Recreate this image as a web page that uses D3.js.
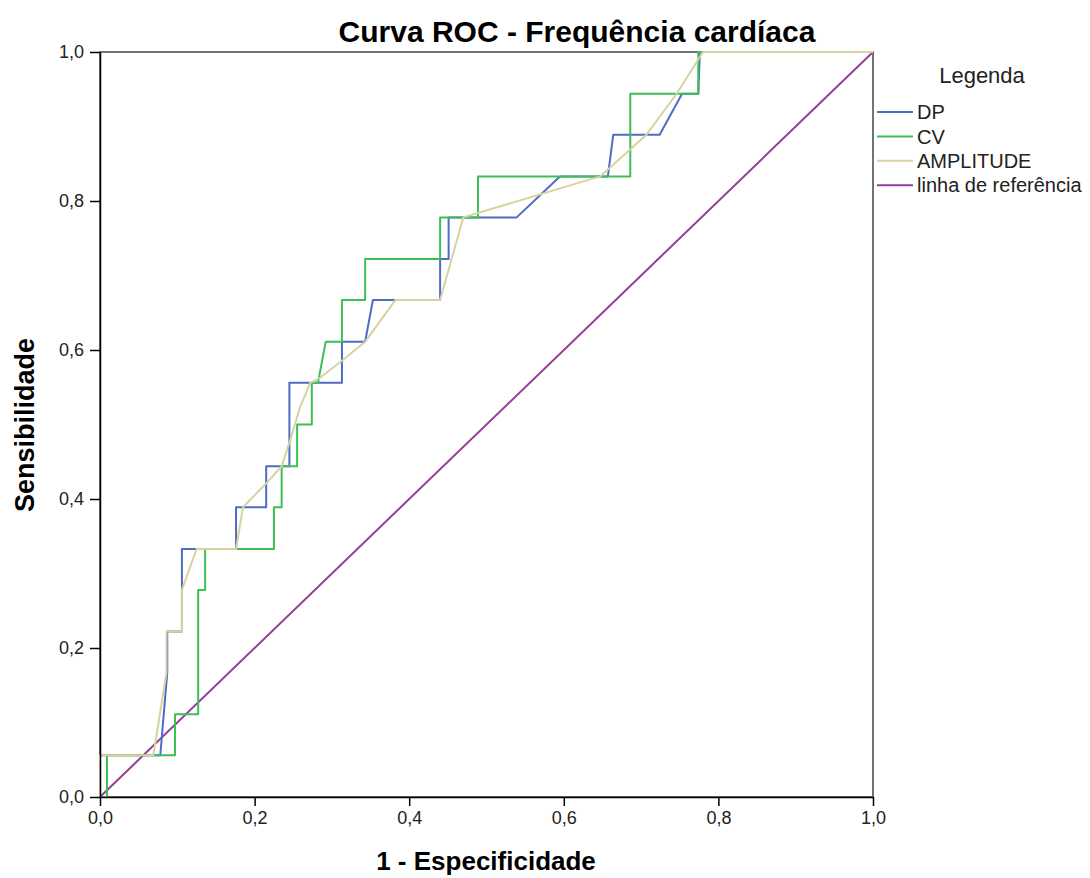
<!DOCTYPE html>
<meta charset="utf-8">
<html>
<style>
body { margin: 0; background: #fff; }
svg { font-family: "Liberation Sans", Arial, sans-serif; }
.series { fill: none; stroke-width: 2px; stroke-linejoin: round; }
.axis text { font-size: 18px; fill: #222; }
.axis path, .axis line { stroke: #000; stroke-width: 1.5px; }
</style>
<body>
<svg width="1090" height="878"></svg>
<script src="https://d3js.org/d3.v7.min.js"></script>
<script>
// 1 - especificidade / sensibilidade
var dpX  = [0, 0, 0.078, 0.087, 0.087, 0.106, 0.106, 0.176, 0.176, 0.215, 0.215, 0.245, 0.245, 0.313, 0.313, 0.343, 0.353, 0.440, 0.440, 0.451, 0.451, 0.539, 0.595, 0.657, 0.664, 0.724, 0.753, 0.774, 0.776, 1];
var dpY  = [0, 0.056, 0.056, 0.167, 0.222, 0.222, 0.333, 0.333, 0.389, 0.389, 0.444, 0.444, 0.556, 0.556, 0.611, 0.611, 0.667, 0.667, 0.722, 0.722, 0.778, 0.778, 0.833, 0.833, 0.889, 0.889, 0.944, 0.944, 1, 1];

var cvX  = [0, 0.009, 0.009, 0.097, 0.097, 0.127, 0.127, 0.136, 0.136, 0.225, 0.225, 0.235, 0.235, 0.255, 0.255, 0.274, 0.274, 0.282, 0.292, 0.313, 0.313, 0.343, 0.343, 0.440, 0.440, 0.489, 0.489, 0.686, 0.686, 0.774, 0.774, 1];
var cvY  = [0, 0, 0.056, 0.056, 0.111, 0.111, 0.278, 0.278, 0.333, 0.333, 0.389, 0.389, 0.444, 0.444, 0.500, 0.500, 0.556, 0.556, 0.611, 0.611, 0.667, 0.667, 0.722, 0.722, 0.778, 0.778, 0.833, 0.833, 0.944, 0.944, 1, 1];

var ampX = [0, 0, 0.069, 0.086, 0.086, 0.106, 0.106, 0.125, 0.176, 0.185, 0.215, 0.235, 0.246, 0.259, 0.272, 0.285, 0.311, 0.343, 0.382, 0.440, 0.470, 0.647, 0.707, 0.746, 0.780, 1];
var ampY = [0, 0.056, 0.056, 0.167, 0.222, 0.222, 0.278, 0.333, 0.333, 0.389, 0.421, 0.444, 0.479, 0.524, 0.556, 0.563, 0.584, 0.611, 0.667, 0.667, 0.778, 0.833, 0.889, 0.944, 1, 1];

var refX = [0, 1];
var refY = [0, 1];

var seriesNames = ["DP", "CV", "AMPLITUDE", "linha de referência"];
var seriesColors = ["#4f6cc4", "#3cbf55", "#d8d2a0", "#973d97"];
var tickValues = [0, 0.2, 0.4, 0.6, 0.8, 1.0];

var svg = d3.select("svg"),
    margin = {top: 52, left: 100},
    width = 773,
    height = 745,
    g = svg.append("g").attr("transform", "translate(" + margin.left + "," + margin.top + ")");

var x = d3.scaleLinear().domain([0, 1]).range([0, width]);
var y = d3.scaleLinear().domain([0, 1]).range([height, 0]);
var fmt = function(d) { return d3.format(".1f")(d).replace(".", ","); };

// moldura
g.append("rect")
    .attr("width", width)
    .attr("height", height)
    .attr("fill", "none")
    .attr("stroke", "#444")
    .attr("stroke-width", 1.5);

var line = d3.line()
    .x(function(d) { return x(d[0]); })
    .y(function(d) { return y(d[1]); });

var data = [
  d3.zip(dpX, dpY),
  d3.zip(cvX, cvY),
  d3.zip(ampX, ampY),
  d3.zip(refX, refY)
];

[3, 0, 1, 2].forEach(function(i) {
  g.append("path")
      .datum(data[i])
      .attr("class", "series")
      .attr("stroke", seriesColors[i])
      .attr("d", line);
});

// eixos
g.append("g")
    .attr("class", "axis")
    .attr("transform", "translate(0," + height + ")")
    .call(d3.axisBottom(x).tickValues(tickValues).tickFormat(fmt).tickSize(9).tickSizeOuter(0).tickPadding(5));

g.append("g")
    .attr("class", "axis")
    .call(d3.axisLeft(y).tickValues(tickValues).tickFormat(fmt).tickSize(10).tickSizeOuter(0).tickPadding(6));

// títulos
svg.append("text")
    .attr("x", 577)
    .attr("y", 42)
    .attr("text-anchor", "middle")
    .style("font-size", "30px")
    .style("font-weight", "bold")
    .text("Curva ROC - Frequência cardíaca");

svg.append("text")
    .attr("x", 486)
    .attr("y", 870)
    .attr("text-anchor", "middle")
    .style("font-size", "26px")
    .style("font-weight", "bold")
    .text("1 - Especificidade");

svg.append("text")
    .attr("transform", "translate(34,425) rotate(-90)")
    .attr("text-anchor", "middle")
    .style("font-size", "27px")
    .style("font-weight", "bold")
    .text("Sensibilidade");

// legenda
var legend = svg.append("g").attr("transform", "translate(877,0)");
legend.append("text")
    .attr("x", 105)
    .attr("y", 83)
    .attr("text-anchor", "middle")
    .style("font-size", "22px")
    .attr("fill", "#222")
    .text("Legenda");

var item = legend.selectAll(".item")
    .data(seriesNames)
    .enter().append("g")
    .attr("transform", function(d, i) { return "translate(0," + (112 + i * 24.4) + ")"; });

item.append("line")
    .attr("x1", 0).attr("x2", 36)
    .attr("stroke", function(d, i) { return seriesColors[i]; })
    .attr("stroke-width", 2);

item.append("text")
    .attr("x", 40)
    .attr("dy", "0.36em")
    .style("font-size", "20px")
    .attr("fill", "#222")
    .text(function(d) { return d; });
</script>
</body>
</html>
